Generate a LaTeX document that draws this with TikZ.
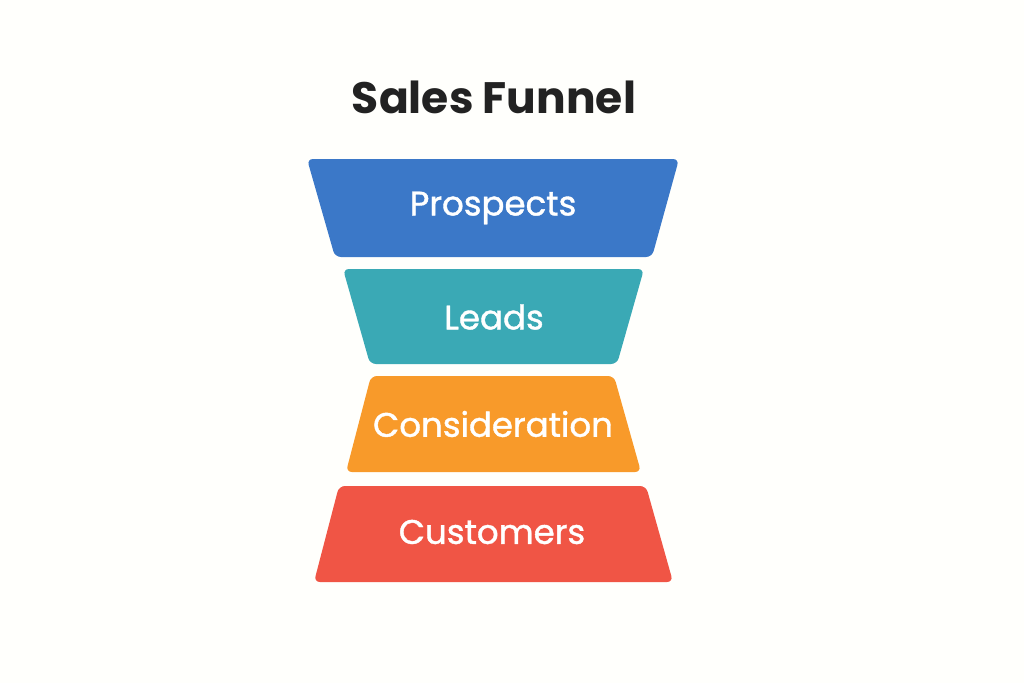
\documentclass[tikz,border=0pt]{standalone}
\usepackage{fontspec}
\setmainfont{Poppins}
\newfontfamily\medfont[FakeBold=1.2]{Poppins}
\begin{document}
\begin{tikzpicture}[x=1pt,y=-1pt,
  seg/.style={rounded corners=6pt},
  lbl/.style={text=white,font=\medfont\fontsize{34}{38}\selectfont}]
\fill[white!98!yellow!60!white] (0,0) rectangle (1024,683);
\useasboundingbox (0,0) rectangle (1024,683);
\definecolor{cb}{HTML}{3B78C8}
\definecolor{ct}{HTML}{3AA9B5}
\definecolor{co}{HTML}{F89A2A}
\definecolor{cr}{HTML}{F05545}
\definecolor{ttl}{HTML}{222222}
\node[text=ttl,font=\fontsize{44}{50}\selectfont\bfseries] (title) at (494,97) {Sales Funnel};
\fill[cb,seg] (307,159) -- (679,159) -- (652,257) -- (335,257) -- cycle;
\node[lbl] (p) at (493,208) {Prospects};
\fill[ct,seg] (343,269) -- (644,269) -- (617,364) -- (370,364) -- cycle;
\node[lbl] (l) at (494,317) {Leads};
\fill[co,seg] (371,376) -- (614,376) -- (641,472) -- (346,472) -- cycle;
\node[lbl] (c) at (493,424) {Consideration};
\fill[cr,seg] (339,486) -- (646,486) -- (673,582) -- (314,582) -- cycle;
\node[lbl] (u) at (492,532) {Customers};
\end{tikzpicture}
\end{document}
